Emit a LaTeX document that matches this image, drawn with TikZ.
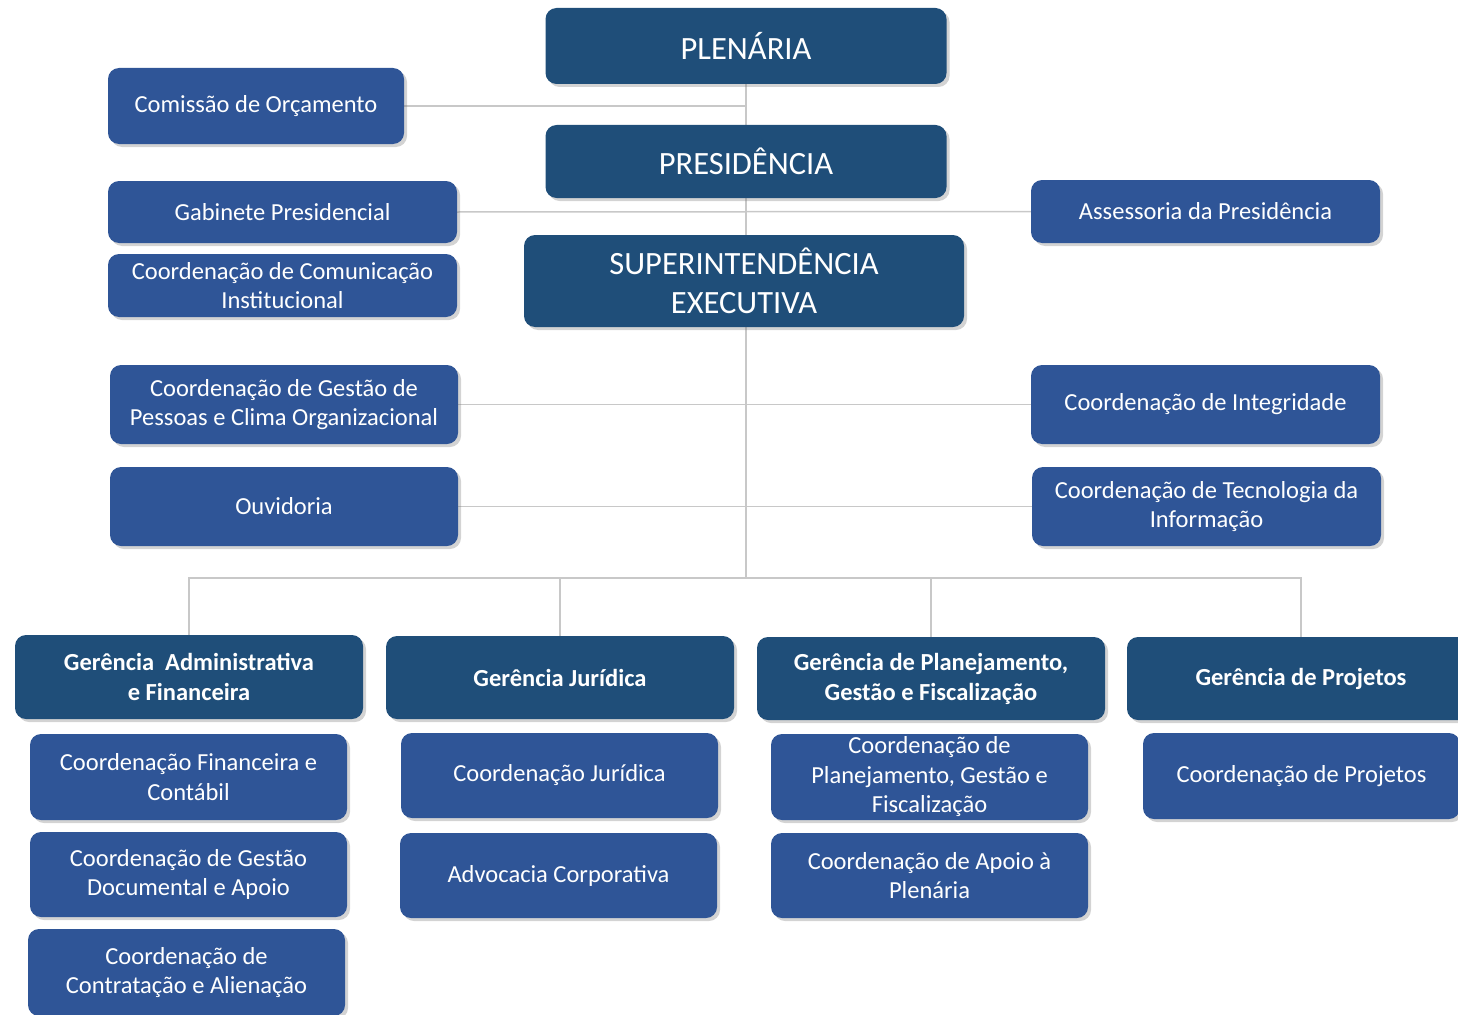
\documentclass[tikz,border=0pt]{standalone}
\usepackage{fontspec}
\setmainfont{Carlito}
\usetikzlibrary{shadows,backgrounds}
\definecolor{darkbox}{RGB}{31,78,121}
\definecolor{lightbox}{RGB}{47,85,151}
\definecolor{linegray}{RGB}{200,200,200}
\tikzset{
  basebox/.style={rectangle, rounded corners=11pt, inner sep=0pt, align=center,
    text=white, drop shadow={opacity=0.35, shadow xshift=3pt, shadow yshift=-3pt}},
  topbox/.style={basebox, fill=darkbox, font=\fontsize{32.5}{39}\selectfont},
  gerbox/.style={basebox, fill=darkbox, font=\fontsize{24.5}{30}\selectfont\bfseries},
  unitbox/.style={basebox, fill=lightbox, font=\fontsize{24.5}{29.5}\selectfont},
  conn/.style={draw=linegray, line width=1.5pt},
}
\begin{document}
\begin{tikzpicture}[x=1pt,y=-1pt]
\useasboundingbox (0,0) rectangle (1458,1014);
\clip (0,0) rectangle (1458,1014);

% top column
\node[topbox, minimum width=401pt, minimum height=76pt] (plen) at (746,46) {PLENÁRIA};
\node[topbox, minimum width=401pt, minimum height=73pt] (pres) at (746,161.5) {PRESIDÊNCIA};
\node[topbox, minimum width=440pt, minimum height=92pt] (sup) at (744,281) {SUPERINTENDÊNCIA\\EXECUTIVA};

% left / right units
\node[unitbox, minimum width=296pt, minimum height=76pt] (com) at (256,106) {Comissão de Orçamento};
\node[unitbox, minimum width=349pt, minimum height=62pt] (gab) at (282.5,212) {Gabinete Presidencial};
\node[unitbox, minimum width=349pt, minimum height=63pt] (ccom) at (282.5,285.5) {Coordenação de Comunicação\\Institucional};
\node[unitbox, minimum width=349pt, minimum height=63pt] (ass) at (1205.5,211.5) {Assessoria da Presidência};
\node[unitbox, minimum width=348pt, minimum height=79pt] (pes) at (284,404.5) {Coordenação de Gestão de\\Pessoas e Clima Organizacional};
\node[unitbox, minimum width=349pt, minimum height=79pt] (integ) at (1205.5,404.5) {Coordenação de Integridade};
\node[unitbox, minimum width=348pt, minimum height=79pt] (ouv) at (284,506.5) {Ouvidoria};
\node[unitbox, minimum width=349pt, minimum height=79pt] (tec) at (1206.5,506.5) {Coordenação de Tecnologia da\\Informação};

% gerencias
\node[gerbox, minimum width=348pt, minimum height=84pt] (gadm) at (189,677) {Gerência\ \ Administrativa\\e Financeira};
\node[gerbox, minimum width=348pt, minimum height=83pt] (gjur) at (560,677.5) {Gerência Jurídica};
\node[gerbox, minimum width=348pt, minimum height=83pt] (gplan) at (931,678.5) {Gerência de Planejamento,\\Gestão e Fiscalização};
\node[gerbox, minimum width=348pt, minimum height=83pt] (gproj) at (1301,678.5) {Gerência de Projetos};

% coordenacoes
\node[unitbox, minimum width=317pt, minimum height=86pt] (cfin) at (188.5,777) {Coordenação Financeira e\\Contábil};
\node[unitbox, minimum width=317pt, minimum height=85pt] (cdoc) at (188.5,874.5) {Coordenação de Gestão\\Documental e Apoio};
\node[unitbox, minimum width=317pt, minimum height=87pt] (ccon) at (186.5,972.5) {Coordenação de\\Contratação e Alienação};
\node[unitbox, minimum width=317pt, minimum height=85pt] (cjur) at (559.5,775.5) {Coordenação Jurídica};
\node[unitbox, minimum width=317pt, minimum height=85pt] (adv) at (558.5,875.5) {Advocacia Corporativa};
\node[unitbox, minimum width=317pt, minimum height=86pt] (cplan) at (929.5,777) {Coordenação de\\Planejamento, Gestão e\\Fiscalização};
\node[unitbox, minimum width=317pt, minimum height=85pt] (capoio) at (929.5,875.5) {Coordenação de Apoio à\\Plenária};
\node[unitbox, minimum width=317pt, minimum height=86pt] (cproj) at (1301.5,776) {Coordenação de Projetos};

\coordinate (bus) at (746,578);

\begin{pgfonlayer}{background}
  \draw[conn] (plen.south) -- (bus);
  \draw[conn] (com.east) -- (com.east -| plen.south);
  \draw[conn] (gab.east) -- (ass.west);
  \draw[conn] (pes.east) -- (integ.west);
  \draw[conn] (ouv.east) -- (tec.west);
  \draw[conn] (gadm.north) |- (bus) -| (gproj.north);
  \draw[conn] (gjur.north) -- (gjur.north |- bus);
  \draw[conn] (gplan.north) -- (gplan.north |- bus);
\end{pgfonlayer}
\end{tikzpicture}
\end{document}
